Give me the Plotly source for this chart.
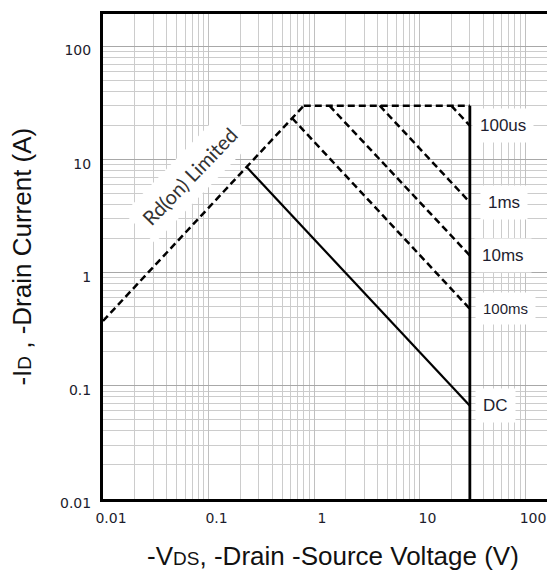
import math
import plotly.graph_objects as go

# ---- Data (-VDS in V, -ID in A) ----
RDS_LIMIT_V = [0.01, 0.8]
RDS_LIMIT_I = [0.375, 30]
IMAX_V = [0.8, 30]
IMAX_I = [30, 30]
VMAX_V = [30, 30]
VMAX_I = [0.01, 30]
T100US_V = [20, 30]
T100US_I = [30, 20]
T1MS_V = [4.2, 30]
T1MS_I = [30, 4.2]
T10MS_V = [1.4, 30]
T10MS_I = [30, 1.42]
T100MS_V = [0.62, 30]
T100MS_I = [23.3, 0.48]
DC_V = [0.23, 30]
DC_I = [8.6, 0.0667]

CURVE_LABELS = ["100us", "1ms", "10ms", "100ms", "DC"]
RDS_LABEL = "Rd(on) Limited"

X_TICK_VALS = [0.01, 0.1, 1, 10, 100]
X_TICK_TEXT = ["0.01", "0.1", "1", "10", "100"]
Y_TICK_VALS = [0.01, 0.1, 1, 10, 100]
Y_TICK_TEXT = ["0.01", "0.1", "1", "10", "100"]

X_TITLE = "-V<span style='font-size:19px'>DS</span>, -Drain -Source Voltage (V)"
Y_TITLE = "-I<span style='font-size:19px'>D</span> , -Drain Current (A)"

DASH = "7px,4px"
fig = go.Figure()

dashed = [
    (RDS_LIMIT_V, RDS_LIMIT_I, "Rd(on) limit"),
    (IMAX_V, IMAX_I, "ID max"),
    (T100US_V, T100US_I, "100us"),
    (T1MS_V, T1MS_I, "1ms"),
    (T10MS_V, T10MS_I, "10ms"),
    (T100MS_V, T100MS_I, "100ms"),
]
for v, i, name in dashed:
    fig.add_trace(go.Scatter(x=v, y=i, mode="lines", name=name,
                             line=dict(color="black", width=2.5, dash=DASH)))

fig.add_trace(go.Scatter(x=DC_V, y=DC_I, mode="lines", name="DC",
                         line=dict(color="black", width=2.2)))
fig.add_trace(go.Scatter(x=VMAX_V, y=VMAX_I, mode="lines", name="VDS max",
                         line=dict(color="black", width=2.8)))

curve_ends = [T100US_I[-1], T1MS_I[-1], T10MS_I[-1], T100MS_I[-1], DC_I[-1]]
label_x = [62, 63, 62, 66, 52]
label_sizes = [17, 17, 17, 15, 17]
for text, yv, xv, fs in zip(CURVE_LABELS, curve_ends, label_x, label_sizes):
    fig.add_annotation(x=math.log10(xv), y=math.log10(yv), xref="x", yref="y",
                       text=text, showarrow=False, bgcolor="white",
                       borderpad=7,
                       font=dict(family="Liberation Sans, Arial", size=fs, color="#1e1e30"))

fig.add_annotation(x=math.log10(0.0665), y=math.log10(7.11), xref="x", yref="y",
                   text=RDS_LABEL, showarrow=False, textangle=-46,
                   bgcolor="white", borderpad=9,
                   font=dict(family="Lato, Open Sans", size=20, color="#333333"))

tick_font = dict(family="DejaVu Sans", size=14, color="#1c1c2c")
title_font = dict(family="Liberation Sans, Arial", size=26, color="#111111")

# y-axis title (placed as a rotated annotation so it can sit close to the edge)
fig.add_annotation(x=-0.178, y=0.5, xref="paper", yref="paper",
                   text=Y_TITLE, showarrow=False, textangle=-90,
                   xanchor="center", yanchor="middle", font=title_font)

fig.update_layout(
    width=555, height=572,
    margin=dict(l=95, r=0, t=6, b=81),
    paper_bgcolor="white", plot_bgcolor="white",
    showlegend=False,
    xaxis=dict(
        type="log", range=[-2, 2.36], automargin=False,
        tickmode="array", tickvals=X_TICK_VALS, ticktext=X_TICK_TEXT,
        tickfont=tick_font, ticks="", ticklabelshift=8, ticklabelstandoff=4,
        showline=True, linecolor="black", linewidth=3, mirror=True,
        showgrid=True, gridcolor="#c0c0c0", gridwidth=1,
        minor=dict(dtick="D1", showgrid=True, gridcolor="#cccccc", gridwidth=1),
        zeroline=False,
        title=dict(text=X_TITLE, font=title_font, standoff=23),
    ),
    yaxis=dict(
        type="log", range=[-2, 2.288], automargin=False,
        tickmode="array", tickvals=Y_TICK_VALS, ticktext=Y_TICK_TEXT,
        tickfont=tick_font, ticks="", ticklabelshift=4, ticklabelstandoff=6,
        showline=True, linecolor="black", linewidth=3, mirror=False,
        showgrid=True, gridcolor="#a8a8a8", gridwidth=1.3,
        minor=dict(dtick="D1", showgrid=True, gridcolor="#cccccc", gridwidth=1),
        zeroline=False,
    ),
)

fig.write_html("out.html")
